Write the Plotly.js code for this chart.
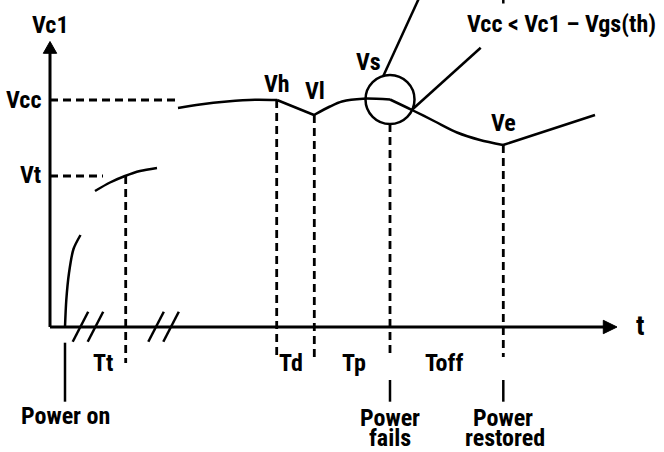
<!DOCTYPE html>
<html>
<head>
<meta charset="utf-8">
<script src="https://cdn.plot.ly/plotly-3.0.1.min.js"></script>
<style>html,body{margin:0;padding:0;background:#fff;}#chart{width:664px;height:452px;}</style>
</head>
<body>
<div id="chart"></div>
<script>
// ---- Data (time units along t, voltage units along Vc1; origin at axis corner) ----
const levelNames = ["Vcc", "Vt"];
const levelValues = [227, 151];

// power-on rise (first segment)
const riseT = [15, 16.3, 19, 23.5, 30.5];
const riseV = [0, 27, 54, 78, 92];
// approach to threshold Vt
const threshT = [45, 60, 75, 90, 107];
const threshV = [136, 144.5, 151, 156, 159];
// normal operation up to Vh
const runT = [128, 150, 177, 205, 227];
const runV = [219, 222.5, 225.5, 227.3, 227];
// drop Vh -> Vl
const dropT = [227, 264];
const dropV = [227, 212];
// recovery Vl -> Vs
const recT = [264, 280, 292, 313, 340];
const recV = [212, 220.5, 225.5, 228.3, 227.5];
// decay after power fails, Vs -> Ve
const decayT = [340, 362, 385, 407, 430, 453];
const decayV = [227.5, 217, 205.5, 194.5, 187, 182];
// after power restored
const restT = [453, 545];
const restV = [182, 212];

// event times
const eventNames = ["Tt", "Vh", "Vl", "Vs", "Ve"];
const eventT = [75.7, 226.7, 264.3, 340, 453.3];
const eventV = [151, 227, 212, 203, 182];

// interval labels on time axis
const intervalLabels = ["Tt", "Td", "Tp", "Toff"];
const intervalT = [52.5, 241, 304, 394];

// point labels
const pointLabels = ["Vh", "Vl", "Vs", "Ve"];
const pointT = [226.7, 265, 318, 453.3];
const pointV = [243, 236, 265.5, 204.5];

const condition = "Vcc &lt; Vc1 – Vgs(th)";

// ---- drawing ----
const FONT = "'Roboto Condensed', 'Liberation Sans', sans-serif";
const FS = 24;
const BLACK = "#000";
const traces = [];
function line(x, y, opts) {
  opts = opts || {};
  traces.push({
    type: "scatter", mode: "lines", x: x, y: y, hoverinfo: "skip",
    line: {color: BLACK, width: opts.width || 2.5, dash: opts.dash || "solid", shape: opts.shape || "linear", smoothing: 0.8}
  });
}
function tri(x, y) {
  traces.push({type: "scatter", mode: "lines", x: x, y: y, fill: "toself", fillcolor: BLACK,
    line: {color: BLACK, width: 1}, hoverinfo: "skip"});
}
const DASH = "8px,5px";

// axes
line([0, 0], [0, 276], {width: 3});
line([0, 556], [0, 0], {width: 3});
tri([-6.7, 6.7, 0, -6.7], [273.7, 273.7, 285.5, 273.7]);
tri([553.3, 553.3, 567, 553.3], [-6.7, 6.7, 0, -6.7]);

// axis break marks
const breakStarts = [22.7, 37.7, 98.3, 113.3];
breakStarts.forEach(b => line([b, b + 15.5], [-14.7, 15.3], {width: 2.5}));

// level dashed lines
line([0, 130], [levelValues[0], levelValues[0]], {dash: DASH, width: 2.8});
line([0, 53], [levelValues[1], levelValues[1]], {dash: DASH, width: 2.8});

// event dashed verticals
eventT.forEach((t, i) => {
  const bottom = i === 0 ? -36 : -30;
  line([t, t], [eventV[i], bottom], {dash: DASH, width: 2.8});
});

// curve segments
line(riseT, riseV, {shape: "spline"});
line(threshT, threshV, {shape: "spline"});
line(runT, runV, {shape: "spline"});
line(dropT, dropV);
line(recT, recV, {shape: "spline"});
line(decayT, decayV, {shape: "spline"});
line(restT, restV);

// event markers below axis
line([15, 15], [-15.7, -74.7], {width: 2.5});
line([340, 340], [-53, -74.7], {width: 2.5});
line([453.3, 453.3], [-53, -74.7], {width: 2.5});

// callout lines from circle
line([333.3, 370], [251, 331], {width: 2.5});
line([361.7, 430.7], [217, 279.3], {width: 2.5});
line([453.3, 453.3], [323.5, 330], {width: 2.5});

const ann = [];
function txt(text, x, y, xanchor, size, h) {
  const a = {text: "<b>" + text + "</b>", x: x, y: y, xref: "x", yref: "y", showarrow: false,
    xanchor: xanchor || "center", yanchor: "middle",
    font: {family: FONT, size: size || FS, color: BLACK, weight: 900}};
  if (h) a.height = h;
  ann.push(a);
}
txt("Vc1", 0, 302);
txt(levelNames[0], -7, levelValues[0], "right");
txt(levelNames[1], -7, levelValues[1] + 1, "right");
txt("t", 590, 2, "center", FS * 1.15);
intervalLabels.forEach((l, i) => txt(l, intervalT[i], -36));
pointLabels.forEach((l, i) => txt(l, pointT[i], pointV[i]));
txt(condition, 511.7, 303);
txt("Power on", 15, -89);
txt("Power", 340, -90.5, "center", FS, 20);
txt("fails", 340, -111, "center", FS, 20);
txt("Power", 453.3, -90.5, "center", FS, 20);
txt("restored", 455, -111, "center", FS, 20);

const layout = {
  width: 664, height: 452,
  margin: {l: 0, r: 0, t: 0, b: 0, pad: 0},
  paper_bgcolor: "#fff", plot_bgcolor: "#fff",
  showlegend: false,
  xaxis: {range: [-50, 614], visible: false, fixedrange: true},
  yaxis: {range: [-125, 327], visible: false, fixedrange: true},
  shapes: [{type: "circle", xref: "x", yref: "y", x0: 315.5, x1: 364.5, y0: 203, y1: 252,
    line: {color: BLACK, width: 2.5}}],
  annotations: ann
};
Plotly.newPlot("chart", traces, layout, {staticPlot: true, displayModeBar: false});
</script>
</body>
</html>
